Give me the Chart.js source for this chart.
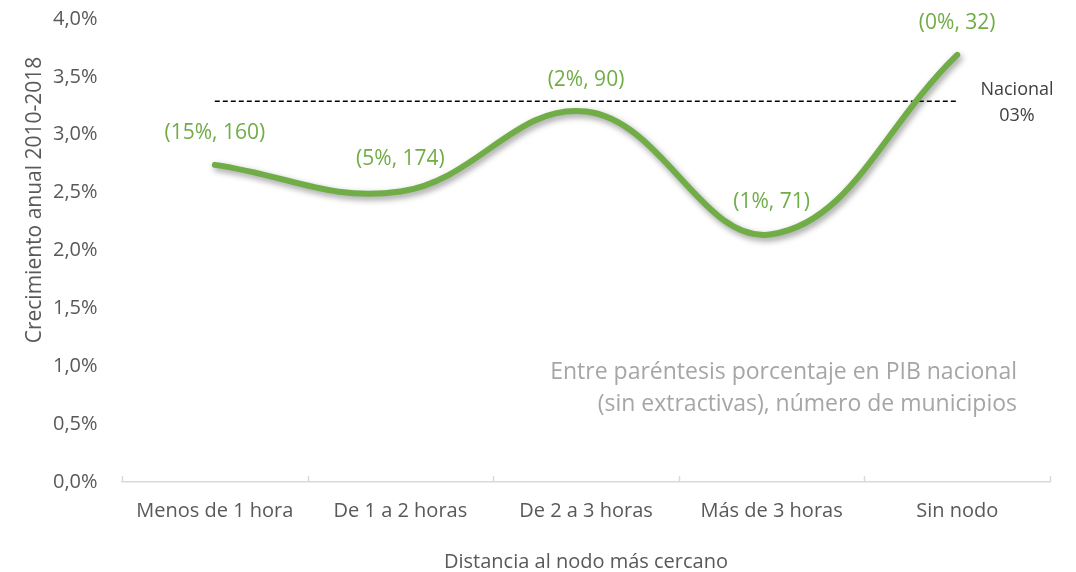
<!DOCTYPE html>
<html>
<head>
<meta charset="utf-8">
<script src="https://cdn.jsdelivr.net/npm/chart.js@4"></script>
<style>
  html, body { margin: 0; padding: 0; background: #fff; }
  #wrap { width: 1076px; height: 572px; }
</style>
</head>
<body>
<div id="wrap"><canvas id="chart" width="1076" height="572"></canvas></div>
<script>
const categories = ["Menos de 1 hora", "De 1 a 2 horas", "De 2 a 3 horas", "Más de 3 horas", "Sin nodo"];
const growth = [2.74, 2.51, 3.20, 2.14, 3.69];
const pointLabels = ["(15%, 160)", "(5%, 174)", "(2%, 90)", "(1%, 71)", "(0%, 32)"];
const nationalValue = 3.29;
const nationalLabel = ["Nacional", "03%"];
const noteLines = ["Entre paréntesis porcentaje en PIB nacional", "(sin extractivas), número de municipios"];

const FONT = "'Open Sans', 'Noto Sans', sans-serif";
const GREEN = "#70AD47";

// line shadow, point labels, notes, upward axis ticks
const extras = {
  id: "extras",
  beforeDatasetDraw(chart, args) {
    if (args.index === 0) {
      const ctx = chart.ctx;
      ctx.save();
      ctx.shadowColor = "rgba(0,0,0,0.4)";
      ctx.shadowBlur = 6;
      ctx.shadowOffsetX = 2;
      ctx.shadowOffsetY = 3;
    }
  },
  afterDatasetDraw(chart, args) {
    if (args.index === 0) chart.ctx.restore();
  },
  afterDraw(chart) {
    const ctx = chart.ctx;
    const x = chart.scales.x;
    const y = chart.scales.y;
    const area = chart.chartArea;
    ctx.save();

    // axis ticks pointing up, between categories
    ctx.strokeStyle = "#d9d9d9";
    ctx.lineWidth = 1.5;
    const step = x.getPixelForValue(1) - x.getPixelForValue(0);
    for (let i = 0; i <= categories.length; i++) {
      const px = Math.round(x.getPixelForValue(0) - step / 2 + i * step) + 0.5;
      ctx.beginPath();
      ctx.moveTo(px, area.bottom);
      ctx.lineTo(px, area.bottom - 6);
      ctx.stroke();
    }

    // point labels
    ctx.fillStyle = GREEN;
    ctx.font = "21px " + FONT;
    ctx.textAlign = "center";
    ctx.textBaseline = "middle";
    const meta = chart.getDatasetMeta(0);
    meta.data.forEach((pt, i) => {
      ctx.fillText(pointLabels[i], pt.x, pt.y - 32);
    });

    // national label
    ctx.fillStyle = "#404040";
    ctx.font = "18px " + FONT;
    const ny = y.getPixelForValue(nationalValue);
    ctx.fillText(nationalLabel[0], 1017, ny - 11);
    ctx.fillText(nationalLabel[1], 1017, ny + 15);

    // note
    ctx.fillStyle = "#a6a6a6";
    ctx.font = "23px " + FONT;
    ctx.textAlign = "right";
    ctx.fillText(noteLines[0], 1017, 372);
    ctx.fillText(noteLines[1], 1017, 404);

    // y axis title
    ctx.fillStyle = "#595959";
    ctx.font = "21px " + FONT;
    ctx.textAlign = "center";
    ctx.translate(35, 200);
    ctx.rotate(-Math.PI / 2);
    ctx.fillText("Crecimiento anual 2010-2018", 0, 0);
    ctx.restore();
  }
};

new Chart(document.getElementById("chart"), {
  type: "line",
  data: {
    labels: categories,
    datasets: [
      {
        data: growth,
        borderColor: GREEN,
        borderWidth: 6,
        borderCapStyle: "round",
        pointRadius: 0,
        tension: 0.4,
        fill: false,
      },
      {
        data: categories.map(() => nationalValue),
        borderColor: "#000000",
        borderWidth: 1.5,
        borderDash: [5, 3],
        pointRadius: 0,
        tension: 0,
        fill: false,
      },
    ],
  },
  options: {
    responsive: false,
    animation: false,
    layout: { padding: { left: 53, right: 26, top: 0, bottom: 0 } },
    plugins: {
      legend: { display: false },
      tooltip: { enabled: false },
    },
    scales: {
      x: {
        offset: true,
        grid: { display: false, drawTicks: false },
        border: { display: true, color: "#d9d9d9", width: 1.5 },
        ticks: { color: "#595959", font: { family: FONT, size: 20 }, padding: 17, maxRotation: 0 },
        title: {
          display: true,
          text: "Distancia al nodo más cercano",
          color: "#595959",
          font: { family: FONT, size: 20, lineHeight: 1 },
          padding: { top: 12, bottom: 0 },
        },
      },
      y: {
        min: 0,
        max: 4,
        grid: { display: false, drawTicks: false },
        border: { display: false },
        afterFit: (scale) => { scale.width = 69; },
        ticks: {
          stepSize: 0.5,
          color: "#595959",
          font: { family: FONT, size: 20 },
          padding: 7,
          crossAlign: "far",
          callback: (v) => v.toFixed(1).replace(".", ",") + "%",
        },
      },
    },
  },
  plugins: [extras],
});
</script>
</body>
</html>
